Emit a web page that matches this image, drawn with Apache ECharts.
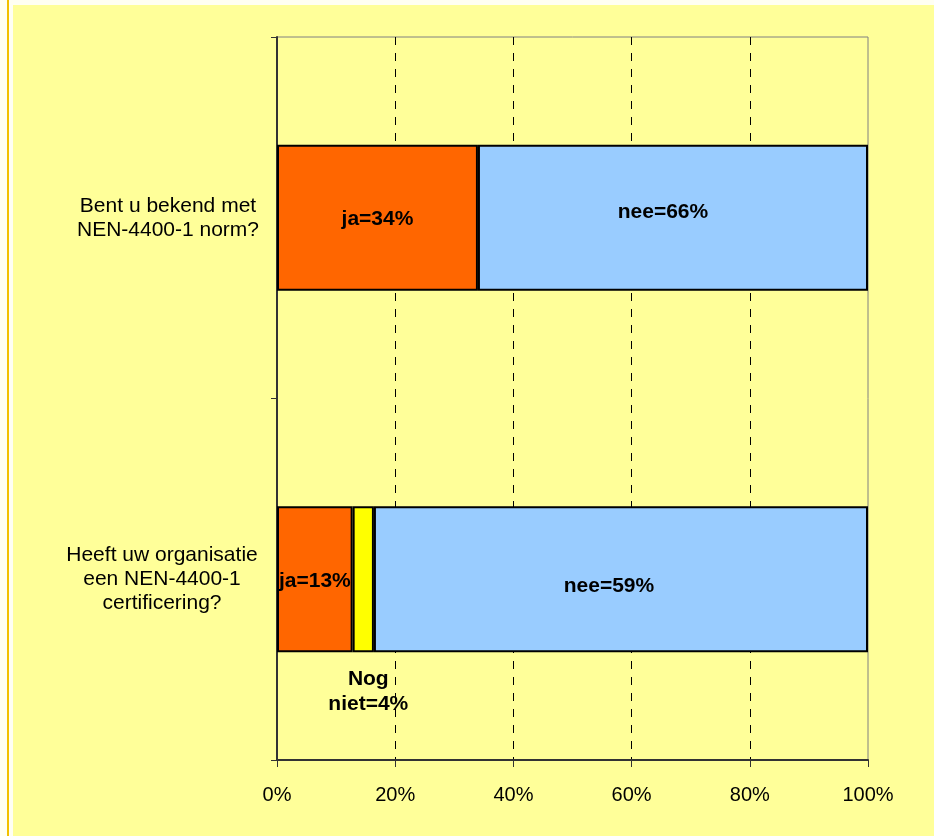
<!DOCTYPE html>
<html>
<head>
<meta charset="utf-8">
<script src="https://cdn.jsdelivr.net/npm/echarts@6/dist/echarts.min.js"></script>
<style>
  html, body { margin: 0; padding: 0; }
  #chart {
    width: 934px; height: 836px;
    background:
      linear-gradient(#ffff99, #ffff99) 13px 5px / 921px 831px no-repeat,
      linear-gradient(#f2c000, #f2c000) 7px 0 / 2px 836px no-repeat,
      #fffff2;
  }
</style>
</head>
<body>
<div id="chart"></div>
<script>
const categories = ['Bent u bekend met\nNEN-4400-1 norm?', 'Heeft uw organisatie\neen NEN-4400-1\ncertificering?'];
const jaValues = [34, 12.8];
const nogNietValues = [null, 3.6];
const neeValues = [66, 83.6];
const jaLabels = ['ja=34%', 'ja=13%'];
const nogNietLabels = ['', 'Nog\nniet=4%'];
const neeLabels = ['nee=66%', 'nee=59%'];

// layout tweaks (not data)
const CAT_PADDING = [[0, 0, 4, 12], [10, 0, 0, 0]];
const JA_OFFSETS = [[0, 1], [0, 2]];
const NEE_OFFSETS = [[-10, -6], [-12, 7]];

const FONT = 'Liberation Sans, Arial, sans-serif';
const chart = echarts.init(document.getElementById('chart'), null, { renderer: 'canvas' });

const labelBase = {
  show: true,
  color: '#000',
  fontFamily: FONT,
  fontWeight: 'bold',
  fontSize: 21
};
const border = { borderColor: '#000', borderWidth: 2 };
const catLabelStyle = { color: '#000', fontFamily: FONT, fontSize: 21, lineHeight: 24, align: 'center' };

chart.setOption({
  backgroundColor: 'transparent',
  animation: false,
  grid: {
    left: 277, right: 66, top: 37, bottom: 76,
    show: true, borderColor: '#808080', borderWidth: 1,
    backgroundColor: 'transparent', containLabel: false, outerBoundsMode: 'none'
  },
  xAxis: {
    type: 'value', min: 0, max: 100, interval: 20,
    axisLine: { show: true, lineStyle: { color: '#333', width: 2 } },
    axisTick: { show: true, length: 7, lineStyle: { color: '#333' } },
    axisLabel: { formatter: '{value}%', color: '#000', fontFamily: FONT, fontSize: 20, margin: 25 },
    splitLine: { show: true, showMinLine: false, showMaxLine: false, lineStyle: { color: '#000', type: [8, 8], width: 1 } }
  },
  yAxis: {
    type: 'category', inverse: true,
    data: categories.map((c, i) => ({ value: c, textStyle: Object.assign({ padding: CAT_PADDING[i] }, catLabelStyle) })),
    axisLine: { show: true, lineStyle: { color: '#333', width: 2 } },
    axisTick: { show: true, length: 6, lineStyle: { color: '#333' } },
    axisLabel: Object.assign({ margin: 115 }, catLabelStyle),
    splitLine: { show: false }
  },
  series: [
    {
      type: 'bar', stack: 'total', barWidth: 146, name: 'ja',
      data: jaValues.map((v, i) => ({ value: v, label: { offset: JA_OFFSETS[i] } })),
      itemStyle: Object.assign({ color: '#ff6600' }, border),
      label: Object.assign({}, labelBase, { position: 'inside', formatter: p => jaLabels[p.dataIndex] })
    },
    {
      type: 'bar', stack: 'total', barWidth: 146, name: 'Nog niet',
      data: nogNietValues,
      itemStyle: Object.assign({ color: '#ffff00' }, border),
      label: Object.assign({}, labelBase, { position: 'bottom', distance: 14, offset: [5, 0], lineHeight: 25, align: 'center', formatter: p => nogNietLabels[p.dataIndex] })
    },
    {
      type: 'bar', stack: 'total', barWidth: 146, name: 'nee',
      data: neeValues.map((v, i) => ({ value: v, label: { offset: NEE_OFFSETS[i] } })),
      itemStyle: Object.assign({ color: '#99ccff' }, border),
      label: Object.assign({}, labelBase, { position: 'inside', formatter: p => neeLabels[p.dataIndex] })
    }
  ]
});
</script>
</body>
</html>
